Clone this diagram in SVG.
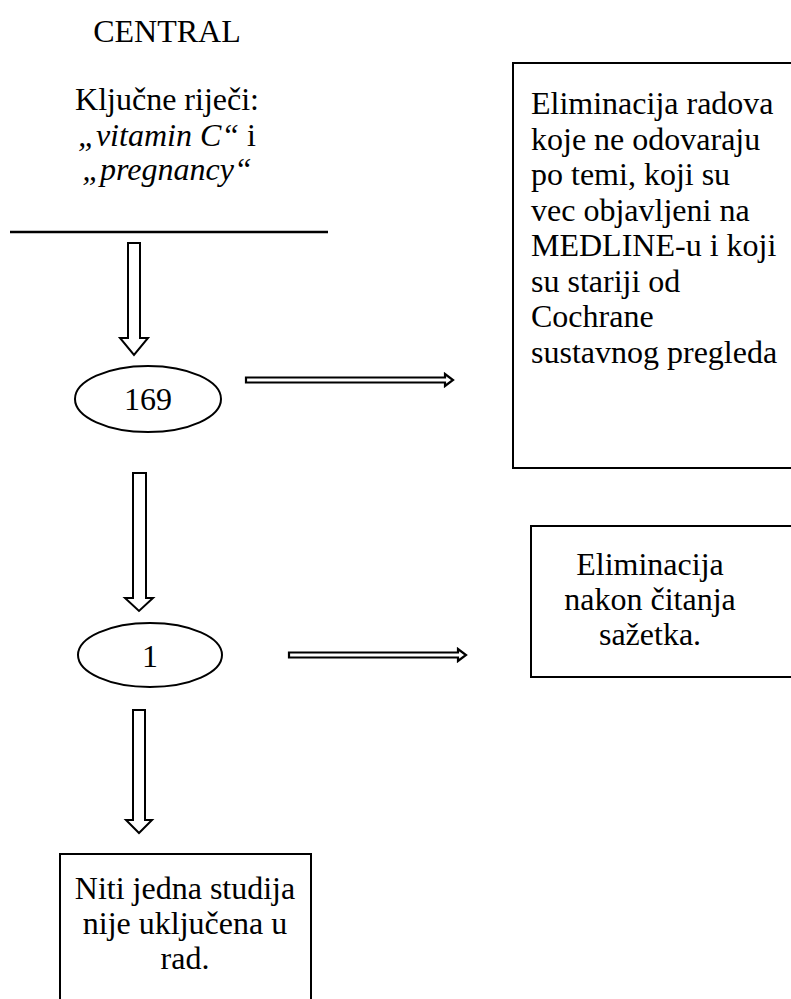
<svg xmlns="http://www.w3.org/2000/svg" width="791" height="999" viewBox="0 0 791 999">
<style>
text{font-family:"Liberation Serif","Times New Roman",serif;font-size:32px;fill:#000}
.c{text-anchor:middle}
.i{font-style:italic}
.box{fill:#fff;stroke:#000;stroke-width:2}
.ell{fill:#fff;stroke:#000;stroke-width:2}
.barrow{fill:#fff;stroke:#000;stroke-width:2;stroke-linejoin:miter}
.harrow{fill:#fff;stroke:#000;stroke-width:2.2;stroke-linejoin:miter}
</style>
<rect width="791" height="999" fill="#fff"/>
<g id="header">
<text class="c" x="167" y="42">CENTRAL</text>
<text class="c" x="167" y="110">Ključne riječi:</text>
<text class="c" x="167" y="146"><tspan class="i">„vitamin C“</tspan> i</text>
<text class="c i" x="167" y="180">„pregnancy“</text>
<line x1="10" y1="232" x2="328" y2="232" stroke="#000" stroke-width="2.5"/>
</g>
<g id="connectors">
<polygon class="barrow" points="128,243 140,243 140,338 148,338 134,355 120,338 128,338"/>
<polygon class="barrow" points="133,473 146,473 146,598 153,598 139,611 125,598 133,598"/>
<polygon class="barrow" points="133,710 145,710 145,820 152,820 139,833 126,820 133,820"/>
<polygon class="harrow" points="246,377.5 445,377.5 445,374 453,380 445,386 445,382.5 246,382.5"/>
<polygon class="harrow" points="289,652.5 458,652.5 458,649 466,655 458,661 458,657.5 289,657.5"/>
</g>
<g id="n169">
<ellipse class="ell" cx="148" cy="399" rx="73" ry="33"/>
<text class="c" x="148" y="410">169</text>
</g>
<g id="n1">
<ellipse class="ell" cx="150" cy="655" rx="72" ry="32"/>
<text class="c" x="150" y="667">1</text>
</g>
<g id="elim1">
<rect class="box" x="513" y="63" width="300" height="405"/>
<text x="531" y="114">Eliminacija radova</text>
<text x="531" y="149.5">koje ne odovaraju</text>
<text x="531" y="185">po temi, koji su</text>
<text x="531" y="220.5">vec objavljeni na</text>
<text x="531" y="256">MEDLINE-u i koji</text>
<text x="531" y="291.5">su stariji od</text>
<text x="531" y="327">Cochrane</text>
<text x="531" y="362.5">sustavnog pregleda</text>
</g>
<g id="elim2">
<rect class="box" x="531" y="526" width="280" height="151"/>
<text class="c" x="650" y="575">Eliminacija</text>
<text class="c" x="650" y="610">nakon čitanja</text>
<text class="c" x="650" y="645">sažetka.</text>
</g>
<g id="result">
<rect class="box" x="60" y="854" width="251" height="170"/>
<text class="c" x="185" y="899">Niti jedna studija</text>
<text class="c" x="185" y="934">nije uključena u</text>
<text class="c" x="185" y="969">rad.</text>
</g>
</svg>
